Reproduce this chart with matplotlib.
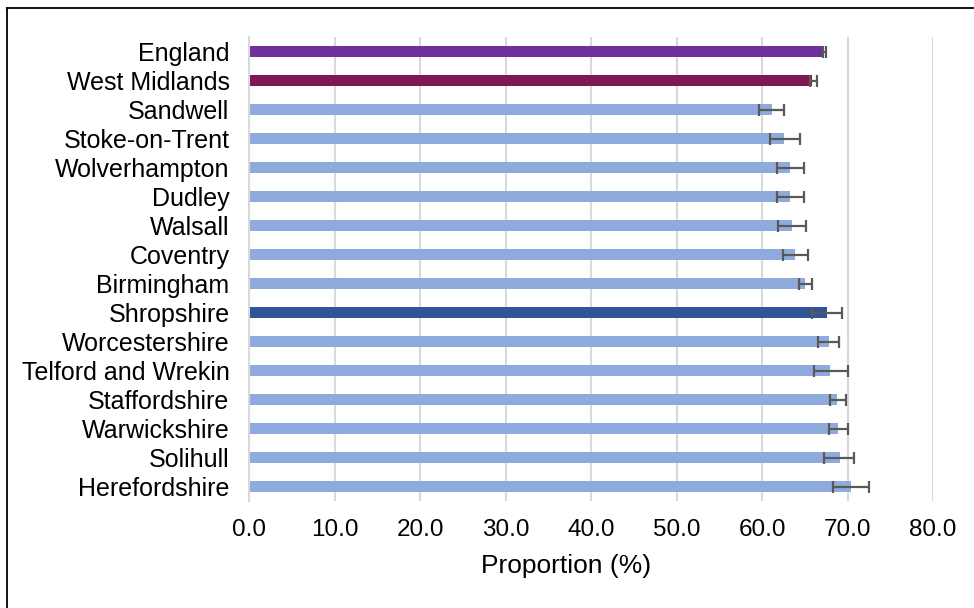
import matplotlib
matplotlib.use("Agg")
import matplotlib.pyplot as plt
from matplotlib.lines import Line2D

plt.rcParams['font.family'] = ['Liberation Sans', 'DejaVu Sans']

areas = ["England", "West Midlands", "Sandwell", "Stoke-on-Trent", "Wolverhampton",
         "Dudley", "Walsall", "Coventry", "Birmingham", "Shropshire", "Worcestershire",
         "Telford and Wrekin", "Staffordshire", "Warwickshire", "Solihull", "Herefordshire"]
values = [67.3, 65.9, 61.2, 62.6, 63.3, 63.3, 63.5, 63.9, 65.0, 67.6, 67.8,
          68.0, 68.8, 68.9, 69.1, 70.4]
lower_ci = [67.1, 65.6, 59.7, 60.9, 61.7, 61.7, 61.9, 62.5, 64.3, 65.9, 66.6,
            66.1, 67.9, 67.8, 67.2, 68.3]
upper_ci = [67.5, 66.4, 62.6, 64.4, 64.9, 64.9, 65.1, 65.4, 65.9, 69.3, 69.0,
            70.0, 69.8, 70.1, 70.8, 72.5]
x_ticks = [0, 10, 20, 30, 40, 50, 60, 70, 80]

color_default = "#8FAADC"
color_special = {"England": "#7030A0", "West Midlands": "#7F1850", "Shropshire": "#2F5597"}
colors = [color_special.get(a, color_default) for a in areas]

fig = plt.figure(figsize=(9.74, 6.08), dpi=100)
ax = fig.add_axes([249 / 974, 1 - 501 / 608, (933 - 249) / 974, (501 - 37) / 608])

ypos = list(range(len(areas)))
ax.barh(ypos, values, height=0.38, color=colors, zorder=2)
err_lo = [v - l for v, l in zip(values, lower_ci)]
err_hi = [u - v for v, u in zip(values, upper_ci)]
ax.errorbar(values, ypos, xerr=[err_lo, err_hi], fmt='none', ecolor="#595959",
            elinewidth=1.6, capsize=4, capthick=1.6, zorder=3)

ax.set_xlim(0, 80)
ax.set_ylim(15.5, -0.5)
ax.set_xticks(x_ticks)
ax.set_xticklabels([f"{t:.1f}" for t in x_ticks])
ax.set_yticks(ypos)
ax.set_yticklabels(areas)
ax.tick_params(axis='both', length=0, colors="black")
ax.tick_params(axis='y', pad=14, labelsize=18)
ax.tick_params(axis='x', pad=13, labelsize=17.5)
ax.grid(axis='x', color="#D9D9D9", linewidth=1.5, zorder=0)
ax.set_axisbelow(True)
for s in ["top", "right", "bottom"]:
    ax.spines[s].set_visible(False)
ax.spines["left"].set_color("#D9D9D9")
ax.spines["left"].set_linewidth(1.5)
ax.set_xlabel("Proportion (%)", fontsize=19, labelpad=9, x=0.463)

# outer frame (left and top edges visible)
fig.add_artist(Line2D([7 / 974, 7 / 974], [0, 1 - 8 / 608], transform=fig.transFigure,
                      color="black", linewidth=1.3))
fig.add_artist(Line2D([7 / 974, 1], [1 - 8 / 608, 1 - 8 / 608], transform=fig.transFigure,
                      color="black", linewidth=1.3))

fig.savefig("out.png", dpi=100, facecolor="white")
